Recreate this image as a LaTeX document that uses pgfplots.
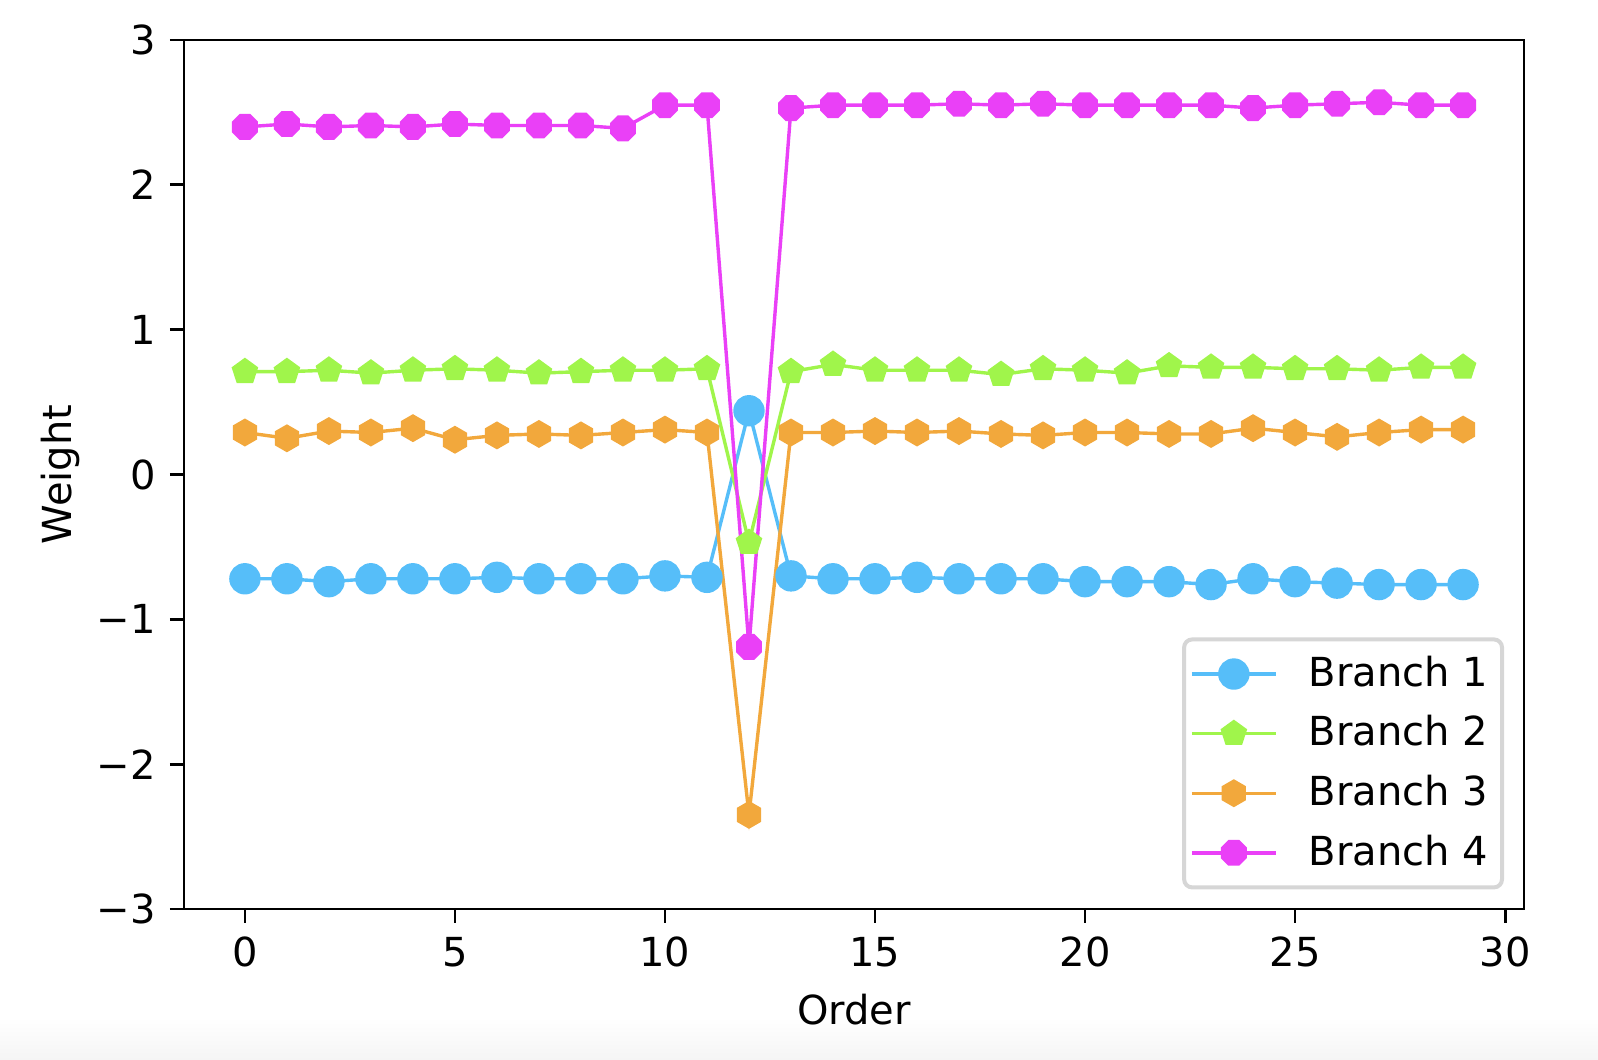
\documentclass[border=0pt]{standalone}
\usepackage{fontspec}
\setmainfont{DejaVu Sans}
\usepackage{pgfplots}
\pgfplotsset{compat=1.18}
\definecolor{cB}{RGB}{86,190,249}
\definecolor{cG}{RGB}{160,245,75}
\definecolor{cO}{RGB}{242,168,60}
\definecolor{cM}{RGB}{234,64,247}
\pgfdeclareplotmark{hexa*}{%
  \pgfpathmoveto{\pgfqpointpolar{90}{\pgfplotmarksize}}%
  \pgfpathlineto{\pgfqpointpolar{150}{\pgfplotmarksize}}%
  \pgfpathlineto{\pgfqpointpolar{210}{\pgfplotmarksize}}%
  \pgfpathlineto{\pgfqpointpolar{270}{\pgfplotmarksize}}%
  \pgfpathlineto{\pgfqpointpolar{330}{\pgfplotmarksize}}%
  \pgfpathlineto{\pgfqpointpolar{30}{\pgfplotmarksize}}%
  \pgfpathclose\pgfusepathqfill}
\pgfdeclareplotmark{penta*}{%
  \pgfpathmoveto{\pgfqpointpolar{90}{\pgfplotmarksize}}%
  \pgfpathlineto{\pgfqpointpolar{162}{\pgfplotmarksize}}%
  \pgfpathlineto{\pgfqpointpolar{234}{\pgfplotmarksize}}%
  \pgfpathlineto{\pgfqpointpolar{306}{\pgfplotmarksize}}%
  \pgfpathlineto{\pgfqpointpolar{18}{\pgfplotmarksize}}%
  \pgfpathclose\pgfusepathqfill}
\pgfdeclareplotmark{octa*}{%
  \pgfpathmoveto{\pgfqpointpolar{22.5}{\pgfplotmarksize}}%
  \pgfpathlineto{\pgfqpointpolar{67.5}{\pgfplotmarksize}}%
  \pgfpathlineto{\pgfqpointpolar{112.5}{\pgfplotmarksize}}%
  \pgfpathlineto{\pgfqpointpolar{157.5}{\pgfplotmarksize}}%
  \pgfpathlineto{\pgfqpointpolar{202.5}{\pgfplotmarksize}}%
  \pgfpathlineto{\pgfqpointpolar{247.5}{\pgfplotmarksize}}%
  \pgfpathlineto{\pgfqpointpolar{292.5}{\pgfplotmarksize}}%
  \pgfpathlineto{\pgfqpointpolar{337.5}{\pgfplotmarksize}}%
  \pgfpathclose\pgfusepathqfill}
\pgfplotstableread{
x b1 b2 b3 b4
0 -0.72 0.71 0.29 2.40
1 -0.72 0.71 0.25 2.42
2 -0.74 0.72 0.30 2.40
3 -0.72 0.70 0.29 2.41
4 -0.72 0.72 0.32 2.40
5 -0.72 0.73 0.24 2.42
6 -0.71 0.72 0.27 2.41
7 -0.72 0.70 0.28 2.41
8 -0.72 0.71 0.27 2.41
9 -0.72 0.72 0.29 2.39
10 -0.70 0.72 0.31 2.55
11 -0.71 0.73 0.29 2.55
12 0.44 -0.47 -2.35 -1.19
13 -0.70 0.71 0.29 2.53
14 -0.72 0.76 0.29 2.55
15 -0.72 0.72 0.30 2.55
16 -0.71 0.72 0.29 2.55
17 -0.72 0.72 0.30 2.56
18 -0.72 0.69 0.28 2.55
19 -0.72 0.73 0.27 2.56
20 -0.74 0.72 0.29 2.55
21 -0.74 0.70 0.29 2.55
22 -0.74 0.75 0.28 2.55
23 -0.76 0.74 0.28 2.55
24 -0.72 0.74 0.32 2.53
25 -0.74 0.73 0.29 2.55
26 -0.75 0.73 0.26 2.56
27 -0.76 0.72 0.29 2.57
28 -0.76 0.74 0.31 2.55
29 -0.76 0.74 0.31 2.55
}\data
\begin{document}
\begin{tikzpicture}
\useasboundingbox (-46pt,-37.75pt) rectangle (353.5pt,227.25pt);
\shade[top color=white,bottom color=black!4] (-46pt,-37.75pt) rectangle (353.5pt,-27pt);
\begin{axis}[
  scale only axis, width=335pt, height=217.25pt,
  xmin=-1.45, xmax=30.45, ymin=-3, ymax=3,
  xtick={0,5,...,30}, ytick={-3,-2,...,3},
  yticklabels={−3,−2,−1,0,1,2,3},
  xticklabels={0,5,10,15,20,25,30},
  tick align=outside, tick pos=left,
  major tick length=3.5pt,
  every tick/.style={black, line width=0.7pt},
  axis line style={line width=0.7pt},
  font=\fontsize{10}{12}\selectfont,
  tick label style={font=\fontsize{10}{12}\selectfont},
  xlabel={Order}, ylabel={Weight},
  every axis x label/.style={at={([yshift=-25.25pt]axis description cs:0.5,0)}, anchor=center},
  every axis y label/.style={at={([xshift=-31pt]axis description cs:0,0.5)}, anchor=center, rotate=90},
  legend style={at={([xshift=-5pt,yshift=4.9pt]axis description cs:1,0)}, anchor=south east,
    draw=black!16, line width=1pt, rounded corners=2pt, inner xsep=1.5pt, inner ysep=2.1pt,
    font=\fontsize{10}{12}\selectfont, row sep=1.8pt},
  legend cell align=left,
  legend image code/.code={\draw[mark repeat=2,mark phase=2] plot coordinates {(0pt,0pt) (10.5pt,0pt) (21pt,0pt)};},
  every axis plot/.append style={line width=0.85pt, mark size=3.5pt},
]
\addplot[cB, mark=*, mark options={draw=none, fill=cB}] table[x=x,y=b1] {\data};
\addlegendentry{\hspace{5.8pt}Branch 1}
\addplot[cG, mark=penta*, mark options={fill=cG}] table[x=x,y=b2] {\data};
\addlegendentry{\hspace{5.8pt}Branch 2}
\addplot[cO, mark=hexa*, mark options={fill=cO}] table[x=x,y=b3] {\data};
\addlegendentry{\hspace{5.8pt}Branch 3}
\addplot[cM, mark=octa*, mark options={fill=cM}] table[x=x,y=b4] {\data};
\addlegendentry{\hspace{5.8pt}Branch 4}
\end{axis}
\end{tikzpicture}
\end{document}
